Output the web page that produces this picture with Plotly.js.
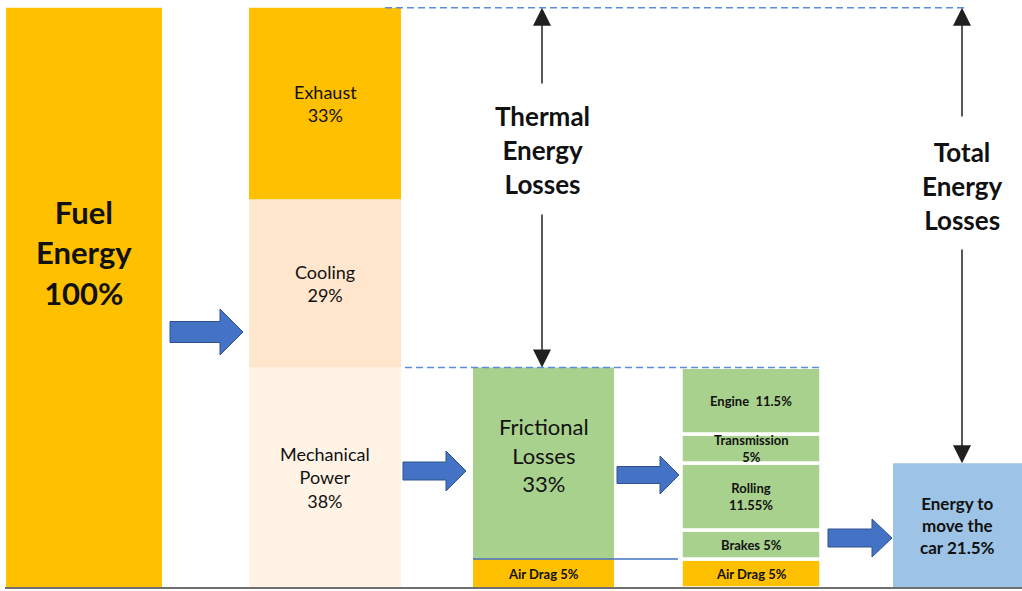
<!DOCTYPE html>
<html>
<head>
<meta charset="utf-8">
<script src="https://cdn.plot.ly/plotly-3.0.1.min.js"></script>
<style>
  html, body { margin: 0; padding: 0; background: #ffffff; }
  #chart { width: 1022px; height: 591px; }
</style>
</head>
<body>
<div id="chart"></div>
<script>
// Where the energy of the fuel goes, in percent of the fuel energy
const fuelLabels = ['Fuel<br>Energy<br>'];
const fuelShares = [100];

const engineLabels = ['Mechanical<br>Power<br>', 'Cooling<br>', 'Exhaust<br>'];
const engineShares = [38, 29, 33];

const mechanicalLabels = ['Air Drag ', 'Frictional<br>Losses<br>'];
const mechanicalShares = [5, 33];

const frictionLabels = ['Air Drag ', 'Brakes ', 'Rolling<br>', 'Transmission<br>', 'Engine  '];
const frictionShares = [5, 5, 11.55, 5, 11.5];

const usefulLabels = ['Energy to<br>move the<br>car '];
const usefulShares = [21.5];

const thermalTitle = 'Thermal<br>Energy<br>Losses';
const totalTitle = 'Total<br>Energy<br>Losses';

// ---- page geometry ----
const W = 1022, H = 591;
const M = { l: 0, r: 0, t: 2, b: 0 };
const Y_RANGE = [-0.5, 101];
const plotH = H - M.t - M.b;
const yScale = plotH / (Y_RANGE[1] - Y_RANGE[0]);
// pixel row -> y value (the x axis already runs in pixels)
const yOf = px => Y_RANGE[1] - (px - M.t) / yScale;

const FONT = 'Lato, "Open Sans", "DejaVu Sans", sans-serif';
const INK = '#111111';
const GOLD = '#FFC000';
const GREEN = '#A9D18E';
const DASH_BLUE = '#5B8FDE';

const columns = [
  { labels: fuelLabels, shares: fuelShares, x0: 6, x1: 162,
    colors: [GOLD], gap: 0,
    fonts: [{ size: 31, bold: true, shift: 45 }] },
  { labels: engineLabels, shares: engineShares, x0: 249, x1: 401,
    colors: ['#FFF3E6', '#FFE6CC', GOLD], gap: 0,
    fonts: [{ size: 18 }, { size: 18 }, { size: 18 }] },
  { labels: mechanicalLabels, shares: mechanicalShares, x0: 473, x1: 614,
    colors: [GOLD, GREEN], gap: 0,
    fonts: [{ size: 13, bold: true }, { size: 22, shift: 8 }] },
  { labels: frictionLabels, shares: frictionShares, x0: 681, x1: 821,
    colors: [GOLD, GREEN, GREEN, GREEN, GREEN], gap: 3.5,
    fonts: [{ size: 13, bold: true }, { size: 13, bold: true }, { size: 13, bold: true },
            { size: 13, bold: true }, { size: 13, bold: true }] },
  { labels: usefulLabels, shares: usefulShares, x0: 893, x1: 1022,
    colors: ['#9DC3E6'], gap: 0,
    fonts: [{ size: 17, bold: true }] }
];

function stackBases(shares) {
  let acc = 0;
  return shares.map(s => { const b = acc; acc += s; return b; });
}

const boldLines = t => '<b>' + t.split('<br>').join('</b><br><b>') + '</b>';

const traces = [];
const annotations = [];

columns.forEach(col => {
  const center = (col.x0 + col.x1) / 2;
  const width = col.x1 - col.x0;
  const bases = stackBases(col.shares);
  traces.push({
    type: 'bar',
    x: col.shares.map(() => center),
    y: col.shares,
    base: bases,
    width: col.shares.map(() => width),
    marker: { color: col.colors, line: { color: '#ffffff', width: col.gap } },
    hoverinfo: 'skip',
    showlegend: false
  });
  col.shares.forEach((s, i) => {
    const f = col.fonts[i];
    const body = col.labels[i] + s + '%';
    annotations.push({
      x: center, y: bases[i] + s / 2, xref: 'x', yref: 'y',
      text: f.bold ? boldLines(body) : body,
      showarrow: false, yshift: f.shift || 0,
      font: { family: FONT, size: f.size, color: INK }
    });
  });
});

// tops used by the loss brackets
const engineTop = engineShares.reduce((a, b) => a + b, 0);
const mechanicalTop = mechanicalShares.reduce((a, b) => a + b, 0);
const usefulTop = usefulShares[0];
const airDragTop = mechanicalShares[0];

// bracket titles
const titleFont = { family: FONT, size: 26, color: '#111111' };
annotations.push({
  x: 542, y: yOf(150), xref: 'x', yref: 'y', showarrow: false,
  text: boldLines(thermalTitle), font: titleFont
});
annotations.push({
  x: 962, y: yOf(186), xref: 'x', yref: 'y', showarrow: false,
  text: boldLines(totalTitle), font: titleFont
});

// thin arrows of the brackets
function pointer(x, tailPx, tipY) {
  return {
    x: x, y: tipY, ax: x, ay: yOf(tailPx),
    xref: 'x', yref: 'y', axref: 'x', ayref: 'y',
    text: '', showarrow: true, arrowhead: 2, arrowsize: 2.4,
    arrowwidth: 1.5, arrowcolor: '#202020', standoff: 0
  };
}
annotations.push(pointer(542, 85, engineTop));
annotations.push(pointer(542, 213, mechanicalTop));
annotations.push(pointer(962, 118, engineTop));
annotations.push(pointer(962, 248, usefulTop));

// block arrows between the stages (pixel geometry)
function blockArrow(x0, x1, headX, cyPx, headH, shaftH) {
  const p = [
    [x0, cyPx - shaftH / 2], [headX, cyPx - shaftH / 2], [headX, cyPx - headH / 2],
    [x1, cyPx], [headX, cyPx + headH / 2], [headX, cyPx + shaftH / 2], [x0, cyPx + shaftH / 2]
  ];
  return {
    type: 'path', xref: 'x', yref: 'y', layer: 'above',
    path: 'M' + p.map(q => q[0] + ',' + yOf(q[1]).toFixed(3)).join(' L') + ' Z',
    fillcolor: '#4472C4', line: { color: '#2F528F', width: 1 }
  };
}

const shapes = [
  // baseline
  { type: 'line', xref: 'x', yref: 'y', x0: 5, x1: W, y0: 0, y1: 0,
    line: { color: '#6f6f6f', width: 2 } },
  // dashed level of the fuel energy
  { type: 'line', xref: 'x', yref: 'y', x0: 385, x1: 967, y0: engineTop, y1: engineTop,
    line: { color: DASH_BLUE, width: 1.5, dash: '7px,4px' } },
  // dashed level of the mechanical power
  { type: 'line', xref: 'x', yref: 'y', x0: 405, x1: 822, y0: mechanicalTop, y1: mechanicalTop,
    line: { color: DASH_BLUE, width: 1.5, dash: '7px,4px' } },
  // split between frictional losses and air drag
  { type: 'line', xref: 'x', yref: 'y', x0: 473, x1: 678, y0: airDragTop, y1: airDragTop,
    line: { color: '#4472C4', width: 1.5 } },
  blockArrow(170, 243, 220, 332, 46, 21),
  blockArrow(403, 466, 446, 471, 40, 18),
  blockArrow(617, 679, 660, 475, 38, 17),
  blockArrow(828, 892, 872, 538, 38, 18)
];

const layout = {
  width: W, height: H,
  margin: M,
  paper_bgcolor: '#ffffff', plot_bgcolor: '#ffffff',
  barmode: 'overlay',
  showlegend: false,
  xaxis: { range: [0, W], visible: false, fixedrange: true },
  yaxis: { range: Y_RANGE, visible: false, fixedrange: true },
  shapes: shapes,
  annotations: annotations,
  font: { family: FONT }
};

Plotly.newPlot('chart', traces, layout, { staticPlot: true, displayModeBar: false });
</script>
</body>
</html>
